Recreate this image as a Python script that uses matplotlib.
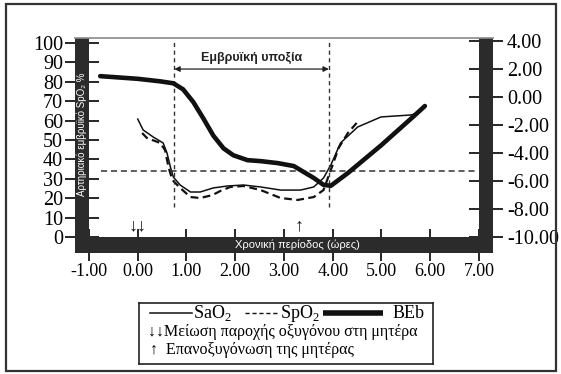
import matplotlib
matplotlib.use('Agg')
import matplotlib.pyplot as plt
from matplotlib.patches import Rectangle

plt.rcParams['font.family'] = ['Liberation Serif', 'DejaVu Serif']
plt.rcParams['axes.unicode_minus'] = False
plt.rcParams['mathtext.fontset'] = 'custom'
plt.rcParams['mathtext.rm'] = 'Liberation Serif'

# --- data ---
# SaO2 (thin solid) and SpO2 (dashed), left axis, %
sao2_x = [0.0, 0.11, 0.32, 0.52, 0.6, 0.67, 0.73, 0.87, 1.08, 1.28, 1.55, 1.84, 2.17, 2.52,
          2.93, 3.34, 3.61, 3.81, 3.96, 4.16, 4.51, 4.99, 5.6, 5.75]
sao2_y = [60.8, 55.2, 51.5, 48.5, 43.3, 36.1, 30.9, 26.8, 23.2, 23.2, 25.3, 26.3, 26.8, 25.8,
          24.2, 24.2, 25.8, 30.4, 37.1, 48.5, 56.7, 61.9, 62.9, 63.9]
spo2_x = [0.09, 0.19, 0.46, 0.56, 0.63, 0.71, 0.87, 1.08, 1.28, 1.53, 1.7, 1.9, 2.17, 2.52,
          2.93, 3.28, 3.61, 3.81, 3.96, 4.12, 4.31, 4.49]
spo2_y = [53.6, 51, 48.5, 44.8, 36.1, 29.4, 25.3, 20.6, 20.1, 21.6, 23.8, 25.8, 26.3, 24.2,
          20.1, 19.1, 20.6, 24.2, 34.5, 45.9, 53.6, 58.8]
# BEb (thick), right axis
beb_x = [-0.77, 0.0, 0.46, 0.73, 0.93, 1.14, 1.35, 1.55, 1.76, 1.96, 2.25, 2.52, 2.87,
         3.2, 3.61, 3.81, 3.96, 4.31, 4.99, 5.67, 5.89]
beb_y = [1.47, 1.28, 1.10, 0.96, 0.53, -0.38, -1.57, -2.77, -3.68, -4.17, -4.52, -4.59, -4.73,
         -4.94, -5.79, -6.28, -6.35, -5.44, -3.47, -1.36, -0.66]

hypoxia_start, hypoxia_end = 0.75, 3.92
threshold = 34
x_ticks = [-1, 0, 1, 2, 3, 4, 5, 6, 7]
left_ticks = list(range(0, 101, 10))
right_ticks = [-10, -8, -6, -4, -2, 0, 2, 4]

W, H = 561, 374
fig = plt.figure(figsize=(W / 100, H / 100), dpi=100)


def fx(px):
    return px / W


def fy(py):
    return 1 - py / H


dark = '#2b2b2b'
ink = '#111111'
pt = 72 / 100  # points per pixel

ax = fig.add_axes([fx(89), fy(237), (479 - 89) / W, (237 - 38) / H])
ax.set_xlim(-1, 7)
ax.set_ylim(0, 102.6)
ax2 = ax.twinx()
ax2.set_ylim(-9.79, 4.19)

for a in (ax, ax2):
    for s in a.spines.values():
        s.set_visible(False)
ax.spines['left'].set_position(('outward', 7 * pt))
ax.spines['bottom'].set_position(('outward', 8 * pt))
ax2.spines['right'].set_position(('outward', 7 * pt))

ax.set_xticks(x_ticks)
ax.set_xticklabels(['%.2f' % v for v in x_ticks], fontsize=13)
ax.set_yticks(left_ticks)
ax.set_yticklabels([str(v) for v in left_ticks], fontsize=14.5)
ax2.set_yticks(right_ticks)
ax2.set_yticklabels(['%.2f' % v for v in right_ticks], fontsize=14.5)
ax.tick_params(axis='x', direction='inout', length=32 * pt, width=2 * pt, color=dark, pad=2 * pt)
ax.tick_params(axis='y', direction='inout', length=34 * pt, width=2 * pt, color=dark, pad=2 * pt)
ax2.tick_params(axis='y', direction='inout', length=34 * pt, width=2 * pt, color=dark, pad=4 * pt)

# curves
ax.plot(sao2_x, sao2_y, color=ink, lw=1.1)
ax.plot(spo2_x, spo2_y, color=ink, lw=1.6, dashes=(3.5, 2))
ax2.plot(beb_x, beb_y, color=ink, lw=3.3, solid_capstyle='round', solid_joinstyle='round')

# reference lines
ax.axhline(threshold, xmin=0.03, xmax=0.99, color='#333333', lw=1.1, dashes=(4, 2.5))
for xv in (hypoxia_start, hypoxia_end):
    ax.plot([xv, xv], [15.5, 100.5], color='#333333', lw=1.0, dashes=(3, 2.5))
ax.annotate('', xy=(hypoxia_start, 86.6), xytext=(hypoxia_end, 86.6),
            arrowprops=dict(arrowstyle='<|-|>', color='#222222', lw=0.9,
                            mutation_scale=8, shrinkA=0, shrinkB=0))
ax.text((hypoxia_start + hypoxia_end) / 2, 92.5, 'Εμβρυϊκή υποξία',
        family=['Liberation Sans', 'DejaVu Sans'], fontweight='bold', fontsize=9,
        ha='center', va='center', color='#222222')
ax.text(0.0, 5.5, '↓↓', family=['Liberation Serif', 'DejaVu Sans'], fontsize=13,
        ha='center', va='center', color=ink)
ax.text(3.3, 6, '↑', family=['Liberation Serif', 'DejaVu Sans'], fontsize=13,
        ha='center', va='center', color=ink)

# thick dark axis bars
for (x0, y0, x1, y1) in [(75, 38, 89, 253), (75, 237, 493, 253), (479, 38, 493, 253)]:
    fig.add_artist(Rectangle((fx(x0), fy(y1)), (x1 - x0) / W, (y1 - y0) / H,
                             transform=fig.transFigure, color=dark, lw=0))
fig.add_artist(plt.Line2D([fx(75), fx(493)], [fy(38), fy(38)], transform=fig.transFigure,
                          color='#8a8a8a', lw=1.2))

fig.text(fx(82), fy(134), 'Αρτηριακό εμβρυϊκό SpO₂ %', rotation=90, color='white',
         family=['Liberation Sans', 'DejaVu Sans'], fontsize=7, ha='center', va='center')
fig.text(fx(297), fy(245), 'Χρονική περίοδος (ώρες)', color='white',
         family=['Liberation Sans', 'DejaVu Sans'], fontsize=8, ha='center', va='center')

# legend box
lax = fig.add_axes([fx(139), fy(364), (433 - 139) / W, (364 - 303) / H])
lax.set_xlim(139, 433)
lax.set_ylim(364, 303)
lax.set_xticks([])
lax.set_yticks([])
for s in lax.spines.values():
    s.set_linewidth(1.2)
    s.set_color('#222222')
lax.plot([150, 192], [313, 313], color=ink, lw=1.1)
lax.text(193, 313, 'SaO$_2$', fontsize=13, va='center', ha='left')
lax.plot([245, 277], [313, 313], color=ink, lw=1.0, dashes=(3, 2))
lax.text(280, 313, 'SpO$_2$', fontsize=13, va='center', ha='left')
lax.plot([323, 383], [313, 313], color=ink, lw=4, solid_capstyle='butt')
lax.text(393, 313, 'BEb', fontsize=13, va='center', ha='left')
lax.text(148, 332, '↓↓Μείωση παροχής οξυγόνου στη μητέρα', fontsize=11.5,
         family=['Liberation Serif', 'DejaVu Sans'], va='center', ha='left')
lax.text(150, 350, '↑  Επανοξυγόνωση της μητέρας', fontsize=11.5,
         family=['Liberation Serif', 'DejaVu Sans'], va='center', ha='left')

# outer frame
fig.add_artist(Rectangle((fx(6), fy(371)), (556 - 6) / W, (371 - 4) / H,
                         transform=fig.transFigure, fill=False, edgecolor='#333333', lw=1.6))

fig.savefig('out.png', dpi=100)
